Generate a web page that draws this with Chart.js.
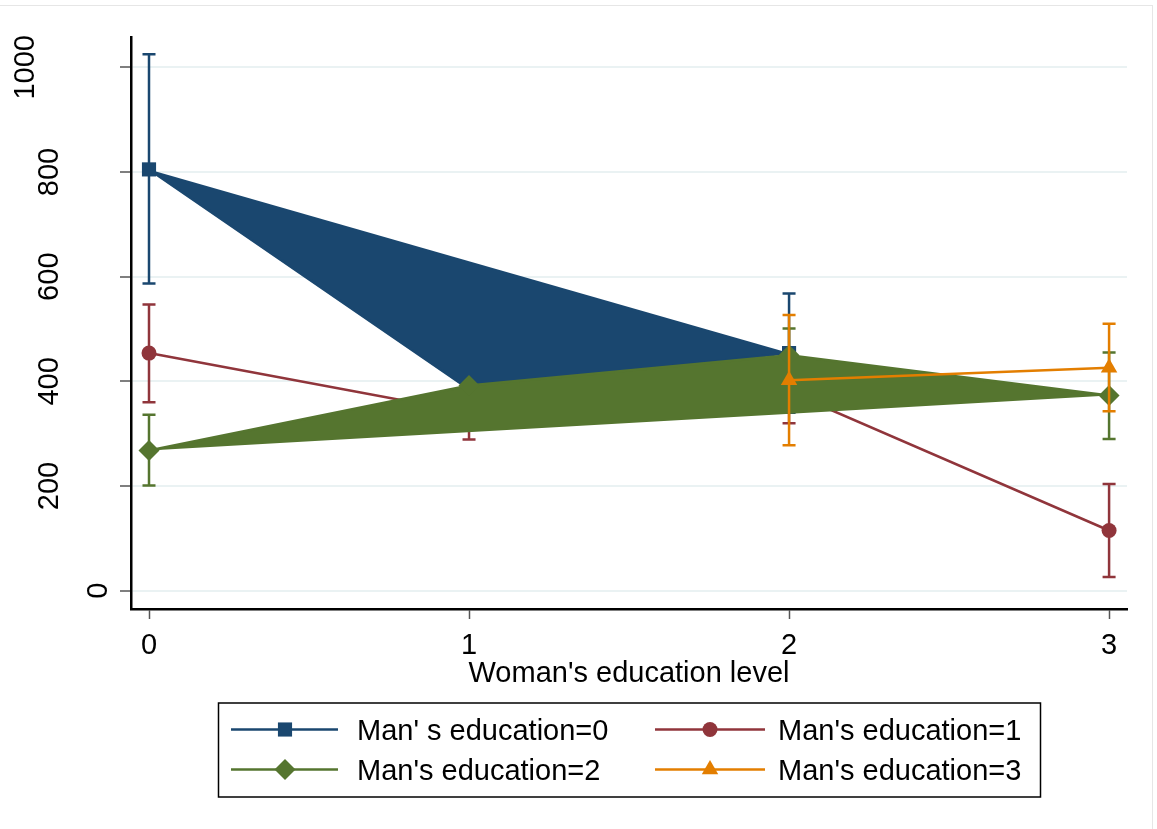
<!DOCTYPE html>
<html>
<head>
<meta charset="utf-8">
<title>Earnings by education level</title>
<script src="https://cdn.jsdelivr.net/npm/chart.js@4.4.0/dist/chart.umd.min.js"></script>
<style>
  html, body { margin: 0; padding: 0; background: #fff; }
  #wrap { width: 1157px; height: 829px; }
</style>
</head>
<body>
<div id="wrap"><canvas id="eduChart" width="1157" height="829"></canvas></div>
<script>
// woman's education level on the x axis
const xValues = [0, 1, 2, 3];
const yTicks = [0, 200, 400, 600, 800, 1000];
const seriesLabels = ["Man' s education=0", "Man's education=1", "Man's education=2", "Man's education=3"];

// means and confidence bounds, one set per man's education level
const edu0Mean = [805, 385, 454, null];
const edu0Low = [587, null, 340, null];
const edu0High = [1025, null, 568, null];

const edu1Mean = [454, 340, 380, 115];
const edu1Low = [360, 289, 320, 26];
const edu1High = [547, 391, 440, 204];

const edu2Mean = [268, 392, 450, 373];
const edu2Low = [201, null, 399, 290];
const edu2High = [336, null, 501, 455];

const edu3Mean = [null, null, 402, 426];
const edu3Low = [null, null, 278, 343];
const edu3High = [null, null, 527, 510];

const FONT = "'Liberation Sans', Arial, Helvetica, sans-serif";
const FONT_SIZE = 29;
const BLUE = '#1a476f', RED = '#90353b', GREEN = '#55752f', ORANGE = '#e37e00';

Chart.defaults.font.family = FONT;
Chart.defaults.color = '#000';

function points(vals) {
    return xValues.map((x, i) => ({x: x, y: vals[i]}));
}

function series(idx, vals, low, high, color, style, radius, fill, order) {
    return {
        label: seriesLabels[idx],
        data: points(vals),
        errLow: low,
        errHigh: high,
        borderColor: color,
        backgroundColor: color,
        borderWidth: 2.5,
        pointStyle: style,
        pointRadius: radius,
        pointBackgroundColor: color,
        pointBorderWidth: 0,
        fill: fill,
        order: order,
        spanGaps: false
    };
}

// caps drawn under each series' own markers, on top of the series below it
const errorBars = {
    id: 'errorBars',
    beforeDatasetDraw(chart, args) {
        const ds = chart.data.datasets[args.index];
        if (!ds.errLow) return;
        const ctx = chart.ctx;
        const xs = chart.scales.x, ys = chart.scales.y;
        ctx.save();
        ctx.strokeStyle = ds.borderColor;
        ctx.lineWidth = 2.5;
        for (let i = 0; i < xValues.length; i++) {
            if (ds.errLow[i] == null || ds.errHigh[i] == null) continue;
            const px = xs.getPixelForValue(xValues[i]);
            const lo = ys.getPixelForValue(ds.errLow[i]);
            const hi = ys.getPixelForValue(ds.errHigh[i]);
            ctx.beginPath();
            ctx.moveTo(px, lo); ctx.lineTo(px, hi);
            ctx.moveTo(px - 6.5, lo); ctx.lineTo(px + 6.5, lo);
            ctx.moveTo(px - 6.5, hi); ctx.lineTo(px + 6.5, hi);
            ctx.stroke();
        }
        ctx.restore();
    }
};

// vertical y labels, shifted left by their length
const yLabels = {
    id: 'yLabels',
    afterDraw(chart) {
        const ctx = chart.ctx;
        const ys = chart.scales.y;
        ctx.save();
        ctx.font = FONT_SIZE + 'px ' + FONT;
        ctx.fillStyle = '#000';
        ctx.textAlign = 'center';
        ctx.textBaseline = 'middle';
        ys.ticks.forEach((t) => {
            const txt = String(t.value);
            const py = ys.getPixelForValue(t.value);
            const px = 121 - 24.2 * txt.length;
            ctx.save();
            ctx.translate(px, py);
            ctx.rotate(-Math.PI / 2);
            ctx.fillText(txt, 0, 2);
            ctx.restore();
        });
        ctx.restore();
    }
};

// boxed two-column legend under the plot
const boxLegend = {
    id: 'boxLegend',
    afterDraw(chart) {
        const ctx = chart.ctx;
        const dsets = chart.data.datasets;
        const cols = [{line0: 231, line1: 338, mark: 285, text: 357}, {line0: 655, line1: 765, mark: 710, text: 778}];
        const rows = [729.5, 769.5];
        ctx.save();
        ctx.strokeStyle = '#000';
        ctx.lineWidth = 1.5;
        ctx.strokeRect(218.5, 703, 822, 94);
        ctx.font = FONT_SIZE + 'px ' + FONT;
        ctx.textBaseline = 'middle';
        ctx.textAlign = 'left';
        dsets.forEach((ds, i) => {
            const c = cols[i % 2];
            const y = rows[Math.floor(i / 2)];
            ctx.strokeStyle = ds.borderColor;
            ctx.lineWidth = 2.5;
            ctx.beginPath();
            ctx.moveTo(c.line0, y); ctx.lineTo(c.line1, y);
            ctx.stroke();
            ctx.fillStyle = ds.borderColor;
            Chart.helpers.drawPoint(ctx, {pointStyle: ds.pointStyle, radius: ds.pointRadius, rotation: 0, borderWidth: 0}, c.mark, y);
            ctx.fillStyle = '#000';
            ctx.fillText(ds.label, c.text, y + 2);
        });
        ctx.restore();
    }
};

const outerFrame = {
    id: 'outerFrame',
    beforeDraw(chart) {
        const ctx = chart.ctx;
        ctx.save();
        ctx.strokeStyle = '#e6e6e6';
        ctx.lineWidth = 1;
        ctx.strokeRect(-2, 5.5, 1154.5, 840);
        ctx.restore();
    }
};

new Chart(document.getElementById('eduChart'), {
    type: 'line',
    data: {
        datasets: [
            series(0, edu0Mean, edu0Low, edu0High, BLUE, 'rect', 10, 'shape', 3),
            series(1, edu1Mean, edu1Low, edu1High, RED, 'circle', 7.5, false, 2),
            series(2, edu2Mean, edu2Low, edu2High, GREEN, 'rectRot', 10.5, 'shape', 1),
            series(3, edu3Mean, edu3Low, edu3High, ORANGE, 'triangle', 9.5, false, 0)
        ]
    },
    options: {
        responsive: false,
        animation: false,
        events: [],
        layout: {padding: {left: 0, top: 37, right: 30, bottom: 138}},
        plugins: {
            legend: {display: false},
            tooltip: {enabled: false}
        },
        scales: {
            x: {
                type: 'linear',
                min: -0.05625,
                max: 3.056,
                afterBuildTicks: (scale) => { scale.ticks = xValues.map((v) => ({value: v})); },
                afterFit: (scale) => { scale.height = 82; },
                ticks: {
                    font: {size: FONT_SIZE},
                    color: '#000',
                    padding: 10,
                    maxRotation: 0,
                    callback: (v) => String(v)
                },
                grid: {
                    drawOnChartArea: false,
                    drawTicks: true,
                    tickLength: 10,
                    tickColor: '#555',
                    tickWidth: 1.5
                },
                border: {color: '#000', width: 2.5},
                title: {
                    display: true,
                    text: "Woman's education level",
                    font: {size: FONT_SIZE},
                    color: '#000',
                    padding: {top: 0, bottom: 0}
                }
            },
            y: {
                type: 'linear',
                min: -35,
                max: 1058,
                afterBuildTicks: (scale) => { scale.ticks = yTicks.map((v) => ({value: v})); },
                afterFit: (scale) => { scale.width = 131; },
                ticks: {display: false},
                grid: {
                    color: '#eaf2f3',
                    lineWidth: 2,
                    drawTicks: true,
                    tickLength: 11,
                    tickColor: '#555',
                    tickWidth: 1.5
                },
                border: {color: '#000', width: 2.5}
            }
        }
    },
    plugins: [outerFrame, errorBars, yLabels, boxLegend]
});
</script>
</body>
</html>
